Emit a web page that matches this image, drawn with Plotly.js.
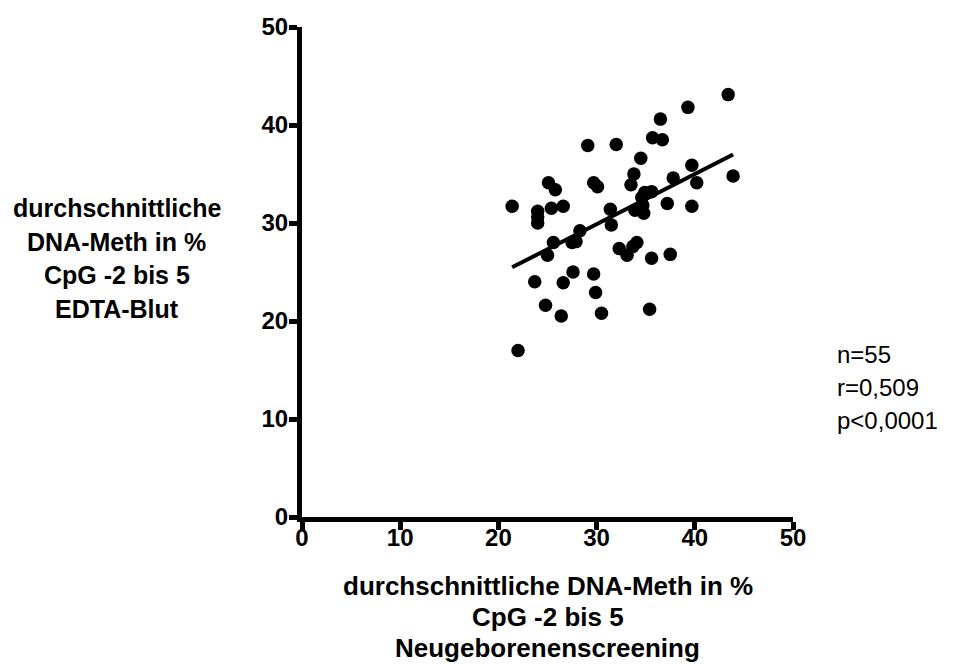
<!DOCTYPE html>
<html>
<head>
<meta charset="utf-8">
<script src="https://cdn.plot.ly/plotly-3.0.1.min.js"></script>
<style>
  html, body { margin: 0; padding: 0; background: #ffffff; }
  #chart { width: 968px; height: 664px; }
</style>
</head>
<body>
<div id="chart"></div>
<script>
// Mean DNA methylation (%) CpG -2 to 5: newborn screening card vs. EDTA blood
const neugeborenenscreening = [
  21.4, 22.0, 23.7, 24.0, 24.0, 24.8, 25.0, 25.1, 25.4, 25.6,
  25.8, 26.4, 26.6, 26.6, 27.5, 27.6, 28.3, 29.1, 29.7, 30.1,
  29.7, 29.9, 30.5, 31.4, 31.5, 32.0, 32.3, 33.1, 33.5, 33.8,
  33.7, 34.1, 33.9, 34.5, 34.7, 34.8, 34.9, 35.6, 35.4, 35.6,
  35.7, 36.7, 36.5, 37.2, 37.5, 37.8, 39.3, 39.7, 39.7, 40.2,
  43.4, 43.9, 34.6, 27.9, 24.0
];
const edtaBlut = [
  31.7, 17.0, 24.0, 31.2, 30.0, 21.6, 26.7, 34.1, 31.5, 28.0,
  33.4, 20.5, 31.7, 23.9, 28.0, 25.0, 29.2, 37.9, 34.1, 33.7,
  24.8, 22.9, 20.8, 31.4, 29.8, 38.0, 27.4, 26.7, 33.9, 35.0,
  27.6, 28.0, 31.3, 36.6, 31.8, 31.0, 33.1, 33.2, 21.2, 26.4,
  38.7, 38.5, 40.6, 32.0, 26.8, 34.6, 41.8, 35.9, 31.7, 34.1,
  43.1, 34.8, 32.6, 28.1, 30.6
];
const tickValues = [0, 10, 20, 30, 40, 50];
const statLines = ["n=55", "r=0,509", "p<0,0001"];
const xTitleLines = ["durchschnittliche DNA-Meth in %", "CpG -2 bis 5", "Neugeborenenscreening"];
const yTitleLines = ["durchschnittliche", "DNA-Meth in %", "CpG -2 bis 5", "EDTA-Blut"];

// Least-squares regression line over the observed x range
function linearFit(xs, ys) {
  const n = xs.length;
  const mx = xs.reduce((a, b) => a + b, 0) / n;
  const my = ys.reduce((a, b) => a + b, 0) / n;
  let sxy = 0, sxx = 0;
  for (let i = 0; i < n; i++) {
    sxy += (xs[i] - mx) * (ys[i] - my);
    sxx += (xs[i] - mx) * (xs[i] - mx);
  }
  const slope = sxy / sxx;
  return { slope: slope, intercept: my - slope * mx };
}
const fit = linearFit(neugeborenenscreening, edtaBlut);
const xMin = Math.min(...neugeborenenscreening);
const xMax = Math.max(...neugeborenenscreening);
const fitX = [xMin, xMax];
const fitY = fitX.map(x => fit.intercept + fit.slope * x);

const FONT = "Arial, 'Liberation Sans', Helvetica, sans-serif";

const traces = [
  {
    x: fitX, y: fitY,
    type: "scatter", mode: "lines",
    line: { color: "#000000", width: 4 },
    hoverinfo: "skip", showlegend: false, cliponaxis: false
  },
  {
    x: neugeborenenscreening, y: edtaBlut,
    type: "scatter", mode: "markers",
    marker: { color: "#000000", size: 13.5, symbol: "circle" },
    showlegend: false, cliponaxis: false
  }
];

const axisStyle = {
  range: [0, 50],
  tickvals: tickValues,
  ticktext: tickValues.map(String),
  ticks: "outside",
  ticklen: 8,
  tickwidth: 5,
  tickcolor: "#000000",
  showline: true,
  linewidth: 5,
  linecolor: "#000000",
  showgrid: false,
  zeroline: false,
  fixedrange: true,
  tickfont: { family: FONT, size: 24, color: "#000000", weight: "bold" }
};

// Multi-line titles are placed line by line for even spacing
function titleLines(lines, x, yTop, step, size, bold, anchor) {
  return lines.map((t, i) => ({
    xref: "paper", yref: "paper",
    x: x, y: yTop - i * step,
    xanchor: anchor, yanchor: "middle", align: anchor,
    showarrow: false,
    text: t,
    font: { family: FONT, size: size, color: "#000000", weight: bold ? "bold" : "normal" }
  }));
}

const layout = {
  width: 968,
  height: 664,
  margin: { l: 302, r: 175, t: 27, b: 147, pad: 0 },
  paper_bgcolor: "#ffffff",
  plot_bgcolor: "#ffffff",
  showlegend: false,
  xaxis: Object.assign({}, axisStyle, { ticklabelstandoff: -13 }),
  yaxis: Object.assign({}, axisStyle, { ticklabelstandoff: -4 }),
  annotations: [].concat(
    titleLines(yTitleLines, -0.377, 0.6306, 0.0687, 25, true, "center"),
    titleLines(xTitleLines, 0.501, -0.1408, 0.0633, 26, true, "center"),
    titleLines(statLines, 1.086, 0.331, 0.0673, 24, false, "left")
  )
};

Plotly.newPlot("chart", traces, layout, { staticPlot: true, displayModeBar: false });
</script>
</body>
</html>
